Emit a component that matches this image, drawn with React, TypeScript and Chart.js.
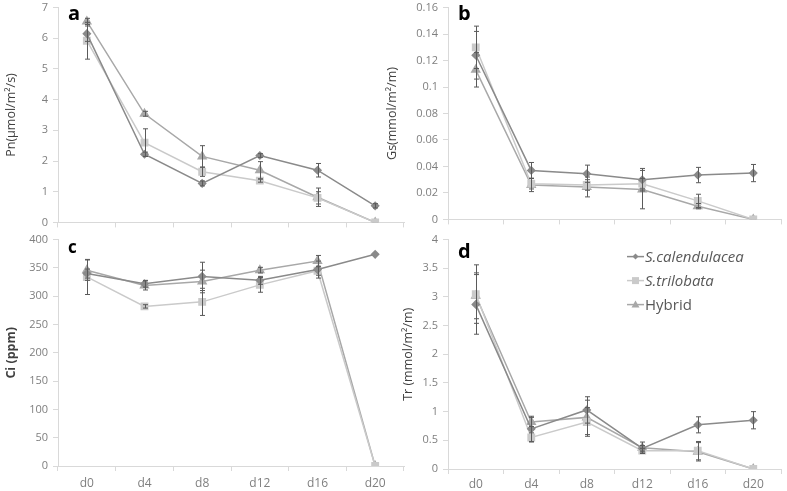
import React, { useEffect, useRef } from "react";
import { Chart, registerables } from "chart.js";
Chart.register(...registerables);

const categories = ["d0", "d4", "d8", "d12", "d16", "d20"];
const seriesNames = ["S.calendulacea", "S.trilobata", "Hybrid"];

const pnCal = [6.15, 2.22, 1.27, 2.18, 1.7, 0.54];
const pnCalErr = [0.25, 0.07, 0.08, 0.06, 0.22, 0.07];
const pnTri = [5.92, 2.6, 1.65, 1.36, 0.8, 0];
const pnTriErr = [0.6, 0.45, 0.15, 0.05, 0.2, 0];
const pnHyb = [6.55, 3.54, 2.15, 1.7, 0.82, 0];
const pnHybErr = [0.1, 0.08, 0.35, 0.28, 0.3, 0];

const gsCal = [0.124, 0.037, 0.0345, 0.03, 0.0335, 0.035];
const gsCalErr = [0.018, 0.006, 0.0065, 0.0085, 0.0058, 0.0065];
const gsTri = [0.13, 0.027, 0.026, 0.027, 0.014, 0];
const gsTriErr = [0.016, 0.004, 0.004, 0.004, 0.005, 0];
const gsHyb = [0.113, 0.026, 0.0245, 0.0225, 0.01, 0];
const gsHybErr = [0.013, 0.005, 0.0075, 0.0145, 0.002, 0];

const ciCal = [340, 322, 335, 328, 347, 374];
const ciCalErr = [8, 6, 25, 7, 15, 0];
const ciTri = [334, 282, 290, 320, 345, 0];
const ciTriErr = [31, 3, 24, 13, 8, 0];
const ciHyb = [346, 319, 326, 346, 362, 0];
const ciHybErr = [18, 8, 20, 5, 10, 0];

const trCal = [2.87, 0.7, 1.03, 0.36, 0.77, 0.85];
const trCalErr = [0.52, 0.22, 0.23, 0.05, 0.14, 0.15];
const trTri = [3.05, 0.55, 0.82, 0.32, 0.32, 0];
const trTriErr = [0.51, 0.08, 0.25, 0.04, 0.16, 0];
const trHyb = [3.02, 0.82, 0.9, 0.37, 0.3, 0];
const trHybErr = [0.4, 0.08, 0.3, 0.1, 0.16, 0];

const COLORS = ["#8a8a8a", "#cacaca", "#a8a8a8"];
const STYLES = ["rectRot", "rect", "triangle"];
const RADII = [3.5, 4.5, 4.5];
const FONT = "'Open Sans', 'DejaVu Sans', sans-serif";

const errorBarPlugin = {
  id: "errorBars",
  afterDatasetsDraw(chart: any) {
    const ctx = chart.ctx;
    const yScale = chart.scales.y;
    chart.data.datasets.forEach((ds: any, di: number) => {
      const meta = chart.getDatasetMeta(di);
      ctx.save();
      ctx.strokeStyle = "#5a5a5a";
      ctx.lineWidth = 1;
      meta.data.forEach((pt: any, i: number) => {
        const e = ds.errors[i];
        if (!e) return;
        const v = ds.data[i];
        const x = Math.round(pt.x) + 0.5;
        const y1 = yScale.getPixelForValue(v + e);
        const y2 = yScale.getPixelForValue(v - e);
        ctx.beginPath();
        ctx.moveTo(x, y1);
        ctx.lineTo(x, y2);
        ctx.moveTo(x - 2.5, y1);
        ctx.lineTo(x + 2.5, y1);
        ctx.moveTo(x - 2.5, y2);
        ctx.lineTo(x + 2.5, y2);
        ctx.stroke();
      });
      ctx.restore();
    });
  },
};

const panelLabelPlugin = {
  id: "panelLabel",
  afterDraw(chart: any, _args: any, opts: any) {
    const ctx = chart.ctx;
    const ca = chart.chartArea;
    ctx.save();
    ctx.fillStyle = "#000";
    ctx.font = `bold ${opts.size || 20}px ${FONT}`;
    ctx.textBaseline = "alphabetic";
    ctx.fillText(opts.text, ca.left + 10, ca.top + (opts.dy || 12));
    ctx.restore();
  },
};

const customLegendPlugin = {
  id: "customLegend",
  afterDraw(chart: any, _args: any, opts: any) {
    if (!opts.show) return;
    const ctx = chart.ctx;
    const ca = chart.chartArea;
    const x0 = ca.left + 179;
    chart.data.datasets.forEach((ds: any, i: number) => {
      const y = ca.top + 17 + i * 24;
      ctx.save();
      ctx.strokeStyle = COLORS[i];
      ctx.lineWidth = 1.5;
      ctx.beginPath();
      ctx.moveTo(x0, y);
      ctx.lineTo(x0 + 17, y);
      ctx.stroke();
      ctx.fillStyle = COLORS[i];
      ctx.beginPath();
      const cx = x0 + 8.5;
      if (i === 0) {
        ctx.moveTo(cx, y - 3);
        ctx.lineTo(cx + 3, y);
        ctx.lineTo(cx, y + 3);
        ctx.lineTo(cx - 3, y);
      } else if (i === 1) {
        ctx.rect(cx - 3.5, y - 3.5, 7, 7);
      } else {
        ctx.moveTo(cx, y - 4);
        ctx.lineTo(cx + 4, y + 3);
        ctx.lineTo(cx - 4, y + 3);
      }
      ctx.closePath();
      ctx.fill();
      ctx.fillStyle = "#595959";
      ctx.font = `${i < 2 ? "italic " : ""}15px ${FONT}`;
      ctx.textBaseline = "middle";
      ctx.fillText(ds.label, x0 + 18, y + 1);
      ctx.restore();
    });
  },
};

const fmt = (v: any) => String(Number(Number(v).toFixed(4)));

function makeConfig(
  series: number[][],
  errors: number[][],
  yMax: number,
  step: number,
  title: string,
  label: string,
  showX: boolean,
  yWidth: number,
  opts: any
) {
  return {
    type: "line",
    data: {
      labels: categories,
      datasets: series.map((s, i) => ({
        label: seriesNames[i],
        data: s,
        errors: errors[i],
        borderColor: COLORS[i],
        backgroundColor: COLORS[i],
        pointBackgroundColor: COLORS[i],
        pointBorderColor: COLORS[i],
        pointStyle: STYLES[i],
        pointRadius: RADII[i],
        borderWidth: 1.5,
        tension: 0,
      })),
    },
    options: {
      animation: false,
      responsive: false,
      maintainAspectRatio: false,
      layout: { padding: opts.padding },
      plugins: {
        legend: { display: false },
        tooltip: { enabled: false },
        panelLabel: { text: label, size: opts.labelSize, dy: opts.labelDy },
        customLegend: { show: !!opts.legend },
      },
      scales: {
        x: {
          type: "category",
          offset: true,
          grid: {
            offset: true,
            drawOnChartArea: false,
            tickLength: 5,
            color: "#d9d9d9",
          },
          border: { color: "#d9d9d9" },
          ticks: {
            display: showX,
            color: "#7f7f7f",
            font: { family: FONT, size: 12 },
            padding: opts.xPad || 3,
          },
          afterFit: (s: any) => {
            s.height = showX ? 26 : 6;
          },
        },
        y: {
          min: 0,
          max: yMax,
          grid: {
            drawOnChartArea: false,
            tickLength: 5,
            color: "#d9d9d9",
          },
          border: { color: "#d9d9d9" },
          ticks: {
            stepSize: step,
            color: "#7f7f7f",
            font: { family: FONT, size: 11 },
            padding: 5,
            callback: fmt,
          },
          title: {
            display: true,
            text: title,
            color: "#404040",
            font: { family: FONT, size: 12.5, weight: opts.boldTitle ? "bold" : "normal" },
            padding: { top: 4, bottom: 0 },
          },
          afterFit: (s: any) => {
            s.width = yWidth;
          },
        },
      },
    },
    plugins: [errorBarPlugin, panelLabelPlugin, customLegendPlugin],
  };
}

function Panel(props: {
  left: number;
  top: number;
  width: number;
  height: number;
  config: any;
}) {
  const ref = useRef<HTMLCanvasElement | null>(null);
  useEffect(() => {
    if (!ref.current) return;
    const chart = new Chart(ref.current, props.config);
    return () => chart.destroy();
  }, []);
  return (
    <canvas
      ref={ref}
      width={props.width}
      height={props.height}
      style={{
        position: "absolute",
        left: props.left,
        top: props.top,
        width: props.width,
        height: props.height,
      }}
    />
  );
}

export default function App() {
  const cfgA = makeConfig(
    [pnCal, pnTri, pnHyb],
    [pnCalErr, pnTriErr, pnHybErr],
    7,
    1,
    "Pn(μmol/m²/s)",
    "a",
    false,
    58,
    { padding: { top: 0, right: 4, left: 0, bottom: 0 } }
  );
  const cfgB = makeConfig(
    [gsCal, gsTri, gsHyb],
    [gsCalErr, gsTriErr, gsHybErr],
    0.16,
    0.02,
    "Gs(mmol/m²/m)",
    "b",
    false,
    67,
    { padding: { top: 0, right: 3, left: 0, bottom: 0 } }
  );
  const cfgC = makeConfig(
    [ciCal, ciTri, ciHyb],
    [ciCalErr, ciTriErr, ciHybErr],
    400,
    50,
    "Ci (ppm)",
    "c",
    true,
    58,
    {
      padding: { top: 3, right: 6, left: 0, bottom: 0 },
      labelSize: 17,
      labelDy: 13,
      boldTitle: true,
      xPad: 5,
    }
  );
  const cfgD = makeConfig(
    [trCal, trTri, trHyb],
    [trCalErr, trTriErr, trHybErr],
    4,
    0.5,
    "Tr (mmol/m²/m)",
    "d",
    true,
    51,
    {
      padding: { top: 1, right: 3, left: 0, bottom: 0 },
      legend: true,
      labelDy: 18,
      xPad: 3,
    }
  );
  return (
    <div
      style={{
        position: "absolute",
        left: 0,
        top: 0,
        width: 787,
        height: 491,
        background: "#fff",
        overflow: "hidden",
      }}
    >
      <Panel left={0} top={-4} width={410} height={238} config={cfgA} />
      <Panel left={381} top={-4} width={406} height={235} config={cfgB} />
      <Panel left={0} top={228} width={410} height={264} config={cfgC} />
      <Panel left={397} top={228} width={390} height={267} config={cfgD} />
    </div>
  );
}
